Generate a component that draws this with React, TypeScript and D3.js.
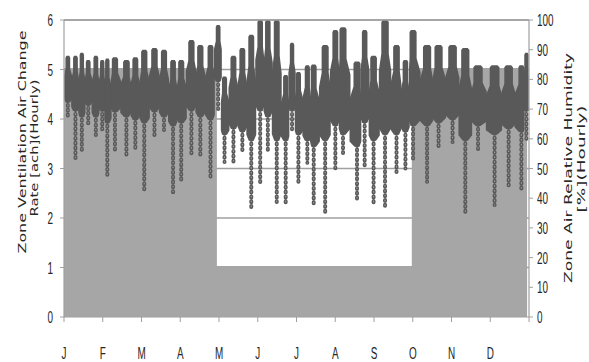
import React, { useEffect, useRef } from "react";
import * as d3 from "d3";

const WIDTH = 589;
const HEIGHT = 362;

const MONTHS = ["J", "F", "M", "A", "M", "J", "J", "A", "S", "O", "N", "D"];
const LEFT_TICKS = [0, 1, 2, 3, 4, 5, 6];
const RIGHT_TICKS = [0, 10, 20, 30, 40, 50, 60, 70, 80, 90, 100];

// ventilation rate, step changes (day of year)
const VENT_DAYS = [0, 120, 273, 365];
const VENT_RATE = [5.03, 1.03, 5.03, 5.03];

const RH_DAYS = [3, 9, 14, 19, 25, 30, 34, 40, 49, 56, 63, 71, 78.5, 85.6, 92, 100, 107, 115, 121, 126, 133, 140, 147, 154, 160, 167, 174, 179, 184, 191, 196, 205, 213, 219, 230, 236, 243, 252, 261, 268, 274, 285, 294, 305, 315, 325, 338, 349, 359, 363];
const RH_MAX = [88, 88, 89, 86.5, 88, 86.5, 87, 87.5, 86.5, 87.5, 90, 90.6, 90, 86.5, 86.5, 93.3, 91.6, 91.6, 98.3, 81, 88, 90.6, 95, 100, 100, 100, 81.5, 92.3, 82.5, 84.8, 85, 91.6, 96.6, 97.6, 86, 96.6, 88, 100, 91.6, 86.5, 96.6, 91.6, 91.6, 91.6, 90.6, 84.8, 84.8, 84.8, 84.8, 89];
const RH_CORE = [73, 70, 68, 72, 68, 70, 66, 69.7, 68, 67, 66, 69.7, 68, 65, 66, 70, 68, 67, 80, 62, 64, 63, 60, 70, 68, 60, 60, 70, 62, 60, 58, 60, 65, 62, 58, 66, 60, 62, 62, 63, 65, 65, 66, 67, 60, 65, 62, 64, 63, 70];
const RH_MIN = [67, 53.5, 55.6, 64.6, 61.3, 63, 47, 55.6, 54.5, 56, 42.8, 61.3, 63, 41.8, 45.5, 54.5, 53.5, 46.1, 70, 52.2, 52.2, 56.2, 36.7, 44.4, 56, 38.7, 38.4, 63, 45.5, 51.9, 37, 34.3, 50, 55, 38.7, 50, 37.7, 36.7, 48.8, 50, 53, 45.5, 56.9, 58.9, 34.3, 56.2, 37.7, 44.4, 42, 60];

const App = () => {
	const ref = useRef(null);

	useEffect(() => {
		const svg = d3.select(ref.current);
		svg.selectAll("*").remove();

		const left = 64;
		const right = 529;
		const top = 20;
		const bottom = 317;
		const markColor = "#595959";
		const lineColor = "#a0a0a0";

		const x = d3.scaleLinear().domain([0, 365]).range([left, right]);
		const yL = d3.scaleLinear().domain([0, 6]).range([bottom, top]);
		const yR = d3.scaleLinear().domain([0, 100]).range([bottom, top]);
		const xMonth = d3.scalePoint().domain(d3.range(13)).range([left, right]);

		// gridlines
		svg
			.append("g")
			.selectAll("line")
			.data(LEFT_TICKS.slice(1))
			.enter()
			.append("line")
			.attr("x1", left)
			.attr("x2", right)
			.attr("y1", (d) => yL(d))
			.attr("y2", (d) => yL(d))
			.attr("stroke", lineColor)
			.attr("stroke-width", 1.6);

		// ventilation area
		const vent = VENT_DAYS.map((d, i) => ({ day: d, v: VENT_RATE[i] }));
		const area = d3
			.area()
			.x((d) => x(d.day))
			.y0(yL(0))
			.y1((d) => yL(d.v))
			.curve(d3.curveStepAfter);
		svg.append("path").attr("d", area(vent.slice(0, -1).concat([{ day: 363.5, v: 5.03 }]))).attr("fill", "#a6a6a6");

		// humidity streaks
		const rh = RH_DAYS.map((d, i) => ({
			day: d,
			hi: RH_MAX[i],
			core: RH_CORE[i],
			lo: RH_MIN[i],
			x0: i === 0 ? 0.5 : (RH_DAYS[i - 1] + d) / 2,
			x1: i === RH_DAYS.length - 1 ? 364.5 : (RH_DAYS[i + 1] + d) / 2
		}));
		const g = svg.append("g");
		g.selectAll("line.tail")
			.data(rh)
			.enter()
			.append("line")
			.attr("class", "tail")
			.attr("x1", (d) => x(d.day))
			.attr("x2", (d) => x(d.day))
			.attr("y1", (d) => yR(d.core))
			.attr("y2", (d) => yR(d.lo))
			.attr("stroke", markColor)
			.attr("stroke-width", 4)
			.attr("stroke-linecap", "round")
			.attr("stroke-dasharray", "1 3.8");
		g.selectAll("line.hole")
			.data(rh)
			.enter()
			.append("line")
			.attr("class", "hole")
			.attr("x1", (d) => x(d.day))
			.attr("x2", (d) => x(d.day))
			.attr("y1", (d) => yR(d.core))
			.attr("y2", (d) => yR(d.lo))
			.attr("stroke", "#9a9a9a")
			.attr("stroke-width", 1.2)
			.attr("stroke-linecap", "round")
			.attr("stroke-dasharray", "0.6 4.2");

		const streak = d3.line().curve(d3.curveLinearClosed);
		g.selectAll("path.core")
			.data(rh)
			.enter()
			.append("path")
			.attr("class", "core")
			.attr("d", (d) => {
				const a = x(d.x0) - 0.5;
				const b = x(d.x1) + 0.5;
				const c = x(d.day);
				const w = Math.max(2.2, (b - a) * 0.3);
				const yh = yR(d.hi);
				const yc = yR(d.core);
				const h = yc - yh;
				return streak([
					[c - w * 0.6, yh],
					[c + w * 0.6, yh],
					[c + w, yh + 2],
					[c + w, yh + h * 0.3],
					[b, yh + h * 0.45],
					[b, yc - h * 0.04],
					[c + 2.5, yc + 2],
					[c - 2.5, yc + 2],
					[a, yc - h * 0.04],
					[a, yh + h * 0.45],
					[c - w, yh + h * 0.3],
					[c - w, yh + 2]
				]);
			})
			.attr("fill", markColor);

		// frame
		svg.append("line").attr("x1", left).attr("x2", right).attr("y1", top).attr("y2", top).attr("stroke", lineColor).attr("stroke-width", 1.6);
		svg.append("line").attr("x1", left).attr("x2", right).attr("y1", bottom).attr("y2", bottom).attr("stroke", lineColor).attr("stroke-width", 1.2);
		svg.append("line").attr("x1", left).attr("x2", left).attr("y1", top).attr("y2", bottom).attr("stroke", lineColor).attr("stroke-width", 1.2);
		svg.append("line").attr("x1", right).attr("x2", right).attr("y1", top).attr("y2", bottom).attr("stroke", lineColor).attr("stroke-width", 1.2);

		const label = (sel, tx, ty, anchor) =>
			sel
				.append("text")
				.attr("transform", (d) => `translate(${tx(d)},${ty(d)}) scale(0.62,1)`)
				.attr("text-anchor", anchor)
				.style("font-family", "Liberation Sans, Arial, sans-serif")
				.style("font-size", "16px")
				.attr("fill", "#262626")
				.text((d) => d);

		// left axis
		const gl = svg.append("g").selectAll("g").data(LEFT_TICKS).enter().append("g");
		gl.append("line").attr("x1", left - 4).attr("x2", left).attr("y1", (d) => yL(d)).attr("y2", (d) => yL(d)).attr("stroke", lineColor);
		label(gl, () => 53, (d) => yL(d) + 6, "end");

		// right axis
		const gr = svg.append("g").selectAll("g").data(RIGHT_TICKS).enter().append("g");
		gr.append("line").attr("x1", right).attr("x2", right + 4).attr("y1", (d) => yR(d)).attr("y2", (d) => yR(d)).attr("stroke", lineColor);
		label(gr, () => 537, (d) => yR(d) + 6, "start");

		// month axis
		svg
			.append("g")
			.selectAll("line")
			.data(d3.range(13))
			.enter()
			.append("line")
			.attr("x1", (d) => xMonth(d))
			.attr("x2", (d) => xMonth(d))
			.attr("y1", bottom)
			.attr("y2", bottom + 5)
			.attr("stroke", lineColor);
		const gm = svg.append("g").selectAll("g").data(MONTHS).enter().append("g");
		label(gm, () => 0, () => 0, "middle");
		gm.attr("transform", (d, i) => `translate(${xMonth(i)},359)`);

		// axis titles
		const title = (tx, ty, txt, len) =>
			svg
				.append("text")
				.attr("transform", `translate(${tx},${ty}) rotate(-90)`)
				.attr("text-anchor", "middle")
				.attr("textLength", len)
				.attr("lengthAdjust", "spacingAndGlyphs")
				.style("font-family", "DejaVu Sans, sans-serif")
				.style("font-size", "11px")
				.attr("fill", "#262626")
				.text(txt);
		title(26, 142, "Zone Ventilation Air Change", 223);
		title(38, 148, "Rate [ach](Hourly)", 137);
		title(572, 168, "Zone Air Relative Humidity", 230);
		title(585, 159, "[%](Hourly)", 107);
	}, []);

	return (
		<svg
			ref={ref}
			width={WIDTH}
			height={HEIGHT}
			style={{ position: "absolute", left: 0, top: 0, background: "#fff" }}></svg>
	);
};

export default App;
